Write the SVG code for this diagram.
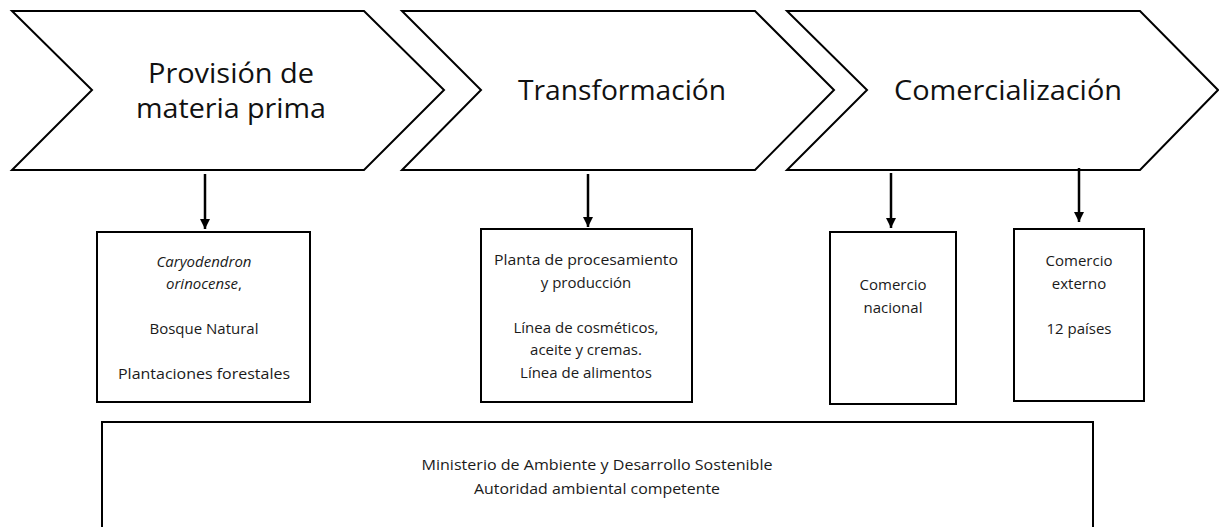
<svg xmlns="http://www.w3.org/2000/svg" width="1219" height="527" viewBox="0 0 1219 527">
<style>
.shape{fill:#fff;stroke:#000;stroke-width:2}
.big{font-family:"Open Sans","Liberation Sans",sans-serif;font-size:27px;fill:#111;text-anchor:middle}
.t{font-family:"Open Sans","Liberation Sans",sans-serif;font-size:15px;fill:#1a1a1a;text-anchor:middle}
.n{font-family:"Open Sans","Liberation Sans",sans-serif;font-size:15px;fill:#1a1a1a;text-anchor:middle}
.conn{stroke:#000;stroke-width:2.5;fill:none;marker-end:url(#ah)}
</style>
<defs>
<marker id="ah" viewBox="0 0 10 10" refX="10" refY="5" markerWidth="10" markerHeight="10" markerUnits="userSpaceOnUse" orient="auto">
<path d="M0,0 L10,5 L0,10 Z" fill="#000"/>
</marker>
</defs>
<rect width="1219" height="527" fill="#fff"/>
<g id="chev1">
<polygon class="shape" points="12,11 364,11 444,90 364,170 12,170 92,90"/>
<text class="big" x="231" y="83" textLength="166" lengthAdjust="spacingAndGlyphs">Provisión de</text>
<text class="big" x="231" y="118" textLength="190" lengthAdjust="spacingAndGlyphs">materia prima</text>
</g>
<g id="chev2">
<polygon class="shape" points="402,11 755,11 834,90 755,170 402,170 481,90"/>
<text class="big" x="622" y="100" textLength="208" lengthAdjust="spacingAndGlyphs">Transformación</text>
</g>
<g id="chev3">
<polygon class="shape" points="787,11 1140,11 1218,90 1140,170 787,170 867,90"/>
<text class="big" x="1008" y="100" textLength="228" lengthAdjust="spacingAndGlyphs">Comercialización</text>
</g>
<g id="connectors">
<line class="conn" x1="205" y1="174" x2="205" y2="229"/>
<line class="conn" x1="588" y1="174" x2="588" y2="227"/>
<line class="conn" x1="891" y1="173" x2="891" y2="228"/>
<line class="conn" x1="1079" y1="168" x2="1079" y2="222"/>
</g>
<g id="box1">
<rect class="shape" x="97" y="232" width="213" height="170"/>
<text class="t" x="204" y="267" font-style="italic">Caryodendron</text>
<text class="t" x="204" y="289"><tspan font-style="italic">orinocense</tspan>,</text>
<text class="t" x="204" y="334">Bosque Natural</text>
<text class="t" x="204" y="379" textLength="172" lengthAdjust="spacingAndGlyphs">Plantaciones forestales</text>
</g>
<g id="box2">
<rect class="shape" x="481" y="229" width="211" height="173"/>
<text class="t" x="586" y="265" textLength="184" lengthAdjust="spacingAndGlyphs">Planta de procesamiento</text>
<text class="t" x="586" y="288">y producción</text>
<text class="t" x="586" y="333">Línea de cosméticos,</text>
<text class="t" x="586" y="355">aceite y cremas.</text>
<text class="t" x="586" y="378">Línea de alimentos</text>
</g>
<g id="box3">
<rect class="shape" x="830" y="232" width="126" height="172"/>
<text class="t" x="893" y="290">Comercio</text>
<text class="t" x="893" y="313">nacional</text>
</g>
<g id="box4">
<rect class="shape" x="1014" y="229" width="130" height="172"/>
<text class="t" x="1079" y="266">Comercio</text>
<text class="t" x="1079" y="289">externo</text>
<text class="t" x="1079" y="334">12 países</text>
</g>
<g id="box5">
<rect class="shape" x="102" y="422" width="991" height="120"/>
<text class="n" x="597" y="470" textLength="351" lengthAdjust="spacingAndGlyphs">Ministerio de Ambiente  y Desarrollo Sostenible</text>
<text class="n" x="597" y="494" textLength="246" lengthAdjust="spacingAndGlyphs">Autoridad ambiental competente</text>
</g>
</svg>
